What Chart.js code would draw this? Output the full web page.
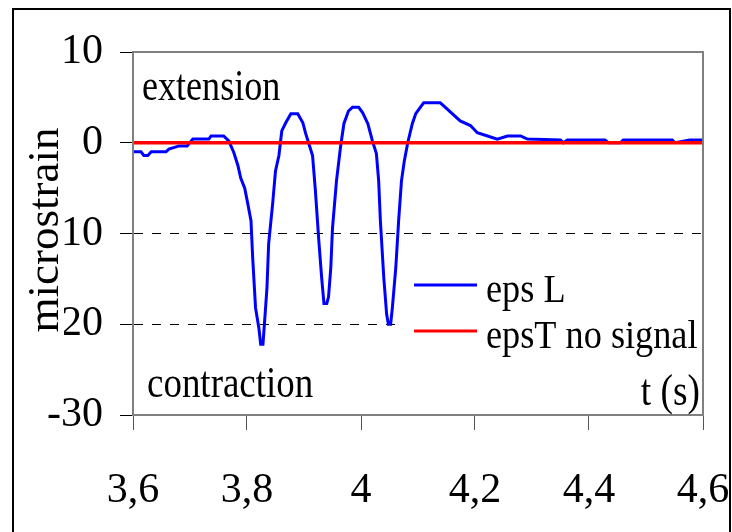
<!DOCTYPE html>
<html>
<head>
<meta charset="utf-8">
<script src="https://cdn.jsdelivr.net/npm/chart.js@4.4.0/dist/chart.umd.min.js"></script>
<style>
  body { margin: 0; background: #fff; }
  #wrap { width: 732px; height: 532px; position: relative; }
</style>
</head>
<body>
<div id="wrap"><canvas id="chart"></canvas></div>
<script>
// longitudinal strain trace (time in s, microstrain)
const timeL = [3.600, 3.614, 3.619, 3.626, 3.632, 3.658, 3.663, 3.681, 3.695, 3.705,
  3.733, 3.737, 3.759, 3.768, 3.777, 3.784, 3.789, 3.796, 3.801, 3.807,
  3.810, 3.815, 3.821, 3.824, 3.828, 3.831, 3.835, 3.838, 3.845, 3.850,
  3.856, 3.861, 3.868, 3.877, 3.889, 3.898, 3.903, 3.908, 3.915, 3.920,
  3.926, 3.931, 3.935, 3.940, 3.943, 3.947, 3.950, 3.957, 3.964, 3.970,
  3.978, 3.985, 3.996, 4.003, 4.012, 4.020, 4.027, 4.031, 4.034, 4.040,
  4.045, 4.048, 4.052, 4.055, 4.061, 4.066, 4.071, 4.076, 4.082, 4.090,
  4.096, 4.104, 4.110, 4.139, 4.148, 4.160, 4.174, 4.192, 4.204, 4.222,
  4.239, 4.257, 4.280, 4.292, 4.350, 4.355, 4.362, 4.428, 4.434, 4.455,
  4.460, 4.546, 4.551, 4.577, 4.600];
const epsL = [-1.0, -1.0, -1.4, -1.4, -1.0, -1.0, -0.7, -0.35, -0.35, 0.4,
  0.4, 0.75, 0.75, 0.2, -1.1, -2.5, -3.9, -5.0, -6.6, -8.6,
  -12.7, -18.2, -20.5, -22.2, -22.2, -19.6, -16.0, -11.1, -6.7, -3.1,
  -1.4, 1.3, 2.2, 3.2, 3.2, 2.2, 1.0, 0.0, -1.4, -5.3,
  -10.8, -14.9, -17.7, -17.7, -17.0, -13.8, -9.4, -4.2, -0.5, 2.1,
  3.5, 3.9, 3.9, 3.3, 2.1, 0.2, -1.2, -4.2, -8.6, -14.9,
  -18.9, -20.0, -20.0, -18.2, -13.8, -8.6, -4.2, -2.0, 0.0, 2.1,
  3.2, 3.9, 4.4, 4.4, 3.9, 3.2, 2.4, 1.9, 1.1, 0.75,
  0.4, 0.75, 0.75, 0.4, 0.3, 0.0, 0.3, 0.3, 0.0, 0.0,
  0.3, 0.3, 0.0, 0.3, 0.3];

// transverse gauge: flat, no signal
const timeT = [3.6, 4.6];
const epsT = [0, 0];

const seriesNames = ['eps L', 'epsT no signal'];
const xTickLabels = ['3,6', '3,8', '4', '4,2', '4,4', '4,6'];

const SERIF = "'Liberation Serif', 'Times New Roman', serif";

function pts(xs, ys) {
  return xs.map((x, i) => ({ x: x, y: ys[i] }));
}

// text squeezed horizontally like the original plot fonts
function squeezed(ctx, text, x, y, size, sx, align) {
  ctx.save();
  ctx.font = size + 'px ' + SERIF;
  ctx.fillStyle = '#000';
  ctx.textBaseline = 'alphabetic';
  ctx.textAlign = align || 'left';
  ctx.translate(x, y);
  ctx.scale(sx, 1);
  ctx.fillText(text, 0, 0);
  ctx.restore();
}

const decorations = {
  id: 'decorations',
  beforeDraw(chart) {
    const ctx = chart.ctx;
    ctx.save();
    ctx.strokeStyle = '#000';
    ctx.lineWidth = 2;
    ctx.strokeRect(13, 9, 717, 600);
    ctx.restore();
  },
  afterDatasetsDraw(chart) {
    const ctx = chart.ctx;
    const a = chart.chartArea;

    // plot frame
    ctx.save();
    ctx.strokeStyle = '#808080';
    ctx.lineWidth = 2;
    ctx.strokeRect(a.left, a.top, a.right - a.left, a.bottom - a.top);
    ctx.restore();

    squeezed(ctx, 'extension', 142, 100, 44, 0.82);
    squeezed(ctx, 'contraction', 147, 397, 44, 0.84);
    squeezed(ctx, 't (s)', 700, 405, 44, 0.85, 'right');

    // legend box inside the plot
    ctx.save();
    ctx.beginPath();
    ctx.rect(a.left, a.top, a.right - a.left - 1, a.bottom - a.top);
    ctx.clip();
    ctx.fillStyle = '#fff';
    ctx.fillRect(400, 262, a.right - 400, 90);
    const rows = [285, 331];
    chart.data.datasets.forEach((ds, i) => {
      ctx.strokeStyle = ds.borderColor;
      ctx.lineWidth = 3;
      ctx.beginPath();
      ctx.moveTo(414, rows[i]);
      ctx.lineTo(477, rows[i]);
      ctx.stroke();
      squeezed(ctx, ds.label, 486, rows[i] + 17, 39, 0.93);
    });
    ctx.restore();

    // y axis title on a white box
    ctx.save();
    ctx.fillStyle = '#fff';
    ctx.fillRect(30, 120, 34, 222);
    ctx.translate(46, 230);
    ctx.rotate(-Math.PI / 2);
    ctx.fillStyle = '#000';
    ctx.font = '45px ' + SERIF;
    ctx.textAlign = 'center';
    ctx.textBaseline = 'middle';
    ctx.fillText('microstrain', 0, 0);
    ctx.restore();
  }
};

const chart = document.querySelector('#chart').getContext('2d');

new Chart(chart, {
  type: 'line',
  data: {
    datasets: [
      {
        label: seriesNames[0],
        data: pts(timeL, epsL),
        borderColor: '#0000ff',
        borderWidth: 3,
        pointRadius: 0,
        tension: 0,
        order: 2
      },
      {
        label: seriesNames[1],
        data: pts(timeT, epsT),
        borderColor: '#ff0000',
        borderWidth: 3.5,
        pointRadius: 0,
        tension: 0,
        order: 1
      }
    ]
  },
  options: {
    responsive: true,
    maintainAspectRatio: false,
    animation: false,
    layout: { padding: { left: 0, top: 52, right: 29, bottom: 0 } },
    plugins: {
      legend: { display: false },
      tooltip: { enabled: false }
    },
    scales: {
      x: {
        type: 'linear',
        min: 3.6,
        max: 4.6,
        afterFit: (s) => {
          s.height = 117;
          s.paddingLeft = 0;
          s.paddingRight = 0;
        },
        ticks: {
          stepSize: 0.2,
          padding: 36,
          color: '#000',
          font: { family: SERIF, size: 42 },
          maxRotation: 0,
          callback: (v, i) => xTickLabels[i]
        },
        grid: {
          drawOnChartArea: false,
          tickLength: 15,
          tickColor: '#555',
          tickBorderDash: []
        },
        border: { color: '#808080', width: 2 }
      },
      y: {
        min: -30,
        max: 10,
        afterFit: (s) => {
          s.width = 133;
          s.paddingTop = 0;
          s.paddingBottom = 0;
        },
        ticks: {
          stepSize: 10,
          padding: 17,
          color: '#000',
          font: { family: SERIF, size: 42 }
        },
        grid: {
          color: (c) => (c.tick && (c.tick.value === 10 || c.tick.value === -30)) ? 'rgba(0,0,0,0)' : '#000',
          lineWidth: 1,
          tickLength: 13,
          tickColor: '#000',
          tickBorderDash: []
        },
        border: { color: '#808080', width: 2, dash: [9, 9] }
      }
    }
  },
  plugins: [decorations]
});
</script>
</body>
</html>
